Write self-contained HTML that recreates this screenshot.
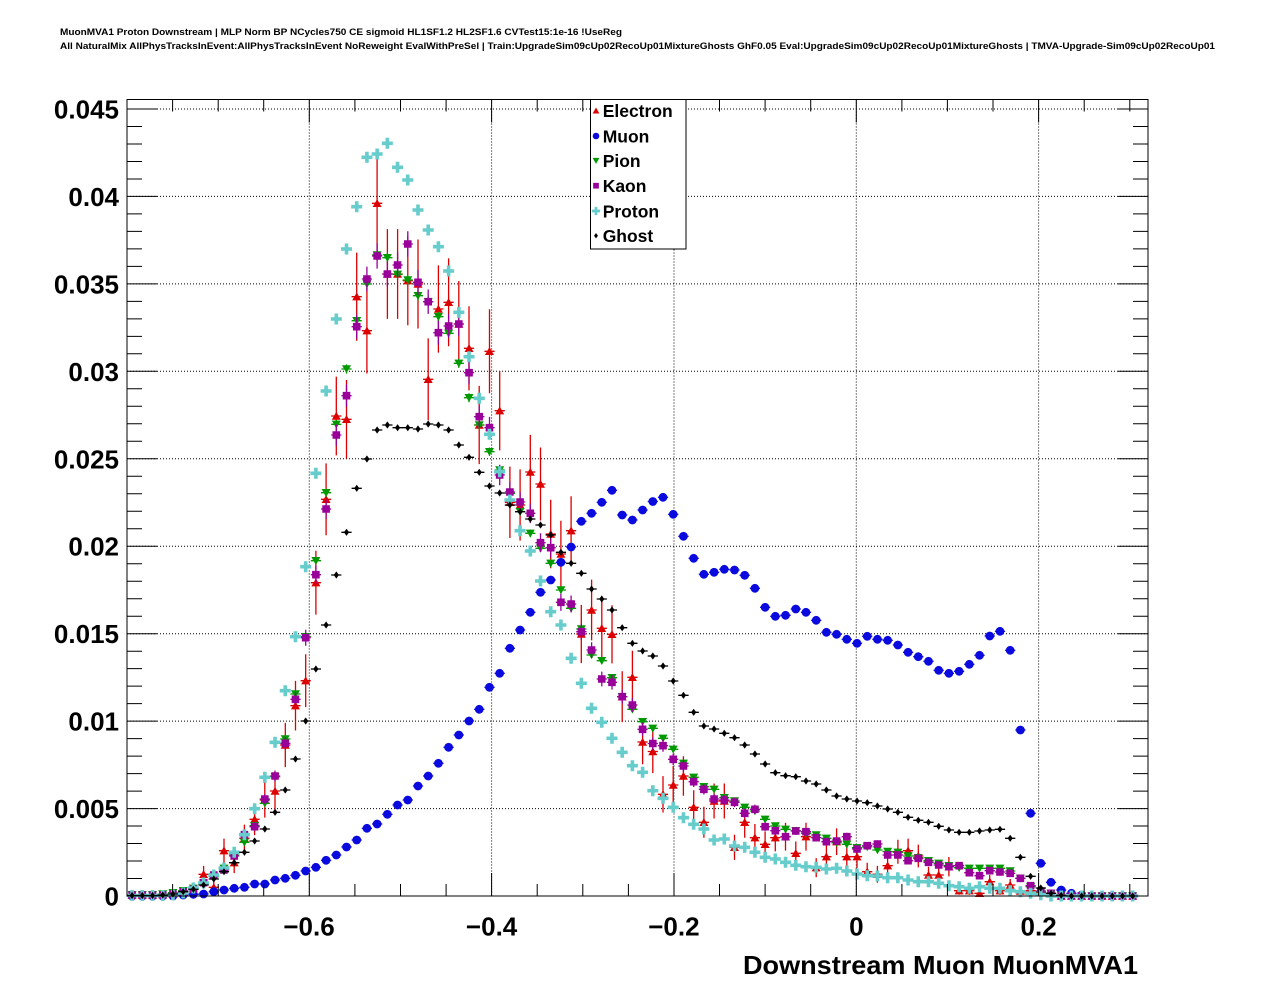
<!DOCTYPE html>
<html><head><meta charset="utf-8"><title>MuonMVA1 Proton Downstream</title>
<style>
html,body{margin:0;padding:0;background:#fff;}
svg{display:block;}
text{font-family:"Liberation Sans",Arial,sans-serif;font-weight:bold;fill:#000;}
</style></head><body>
<svg id="s" width="1276" height="996" viewBox="0 0 1276 996" xmlns="http://www.w3.org/2000/svg">
<rect width="1276" height="996" fill="#fff"/>
<text x="60" y="35" font-size="9.5" textLength="562" lengthAdjust="spacingAndGlyphs">MuonMVA1 Proton Downstream | MLP Norm BP NCycles750 CE sigmoid HL1SF1.2 HL2SF1.6 CVTest15:1e-16 !UseReg</text>
<text x="60" y="49" font-size="9.5" textLength="1155" lengthAdjust="spacingAndGlyphs">All NaturalMix AllPhysTracksInEvent:AllPhysTracksInEvent NoReweight EvalWithPreSel | Train:UpgradeSim09cUp02RecoUp01MixtureGhosts GhF0.05 Eval:UpgradeSim09cUp02RecoUp01MixtureGhosts | TMVA-Upgrade-Sim09cUp02RecoUp01</text>
<g id="grid" stroke="#000" stroke-width="1" stroke-dasharray="1 2" fill="none"></g>
<g id="data"></g>
<g id="axes" stroke="#000" stroke-width="1" fill="none"></g>
<g font-size="26">
<text x="119" y="905.5" text-anchor="end">0</text>
<text x="119" y="818.1" text-anchor="end">0.005</text>
<text x="119" y="730.6" text-anchor="end">0.01</text>
<text x="119" y="643.2" text-anchor="end">0.015</text>
<text x="119" y="555.7" text-anchor="end">0.02</text>
<text x="119" y="468.3" text-anchor="end">0.025</text>
<text x="119" y="380.8" text-anchor="end">0.03</text>
<text x="119" y="293.4" text-anchor="end">0.035</text>
<text x="119" y="205.9" text-anchor="end">0.04</text>
<text x="119" y="118.5" text-anchor="end">0.045</text>
<text x="309" y="935.5" text-anchor="middle">−0.6</text>
<text x="491.6" y="935.5" text-anchor="middle">−0.4</text>
<text x="673.9" y="935.5" text-anchor="middle">−0.2</text>
<text x="856.3" y="935.5" text-anchor="middle">0</text>
<text x="1038.6" y="935.5" text-anchor="middle">0.2</text>
</g>
<text x="743" y="974" font-size="26" textLength="395" lengthAdjust="spacingAndGlyphs">Downstream Muon MuonMVA1</text>
<rect x="590.5" y="99.5" width="95.5" height="149.5" fill="#fff" stroke="#000" stroke-width="1"/>
<g id="leg"></g>
<g font-size="17.5">
<text x="602.7" y="117">Electron</text>
<text x="602.7" y="142.3">Muon</text>
<text x="602.7" y="167">Pion</text>
<text x="602.7" y="192">Kaon</text>
<text x="602.7" y="217.3">Proton</text>
<text x="602.7" y="242">Ghost</text>
</g>
</svg>
<script>
(function(){
var NS="http://www.w3.org/2000/svg";
function add(g,tag,a){var e=document.createElementNS(NS,tag);for(var k in a)e.setAttribute(k,a[k]);g.appendChild(e);return e;}
var L=127,R=1148,T=99.5,B=896;
function xp(v){return L+(v+0.8)*911.6;}
function yp(v){return B-v*17489;}
var grid=document.getElementById('grid'),axes=document.getElementById('axes'),data=document.getElementById('data'),leg=document.getElementById('leg');
var gd="";
[-0.6,-0.4,-0.2,0,0.2].forEach(function(v){var x=xp(v).toFixed(1);gd+="M"+x+" "+T+"V"+B;});
for(var k=1;k<=9;k++){var y=yp(k*0.005).toFixed(1);gd+="M"+L+" "+y+"H"+R;}
add(grid,'path',{d:gd});
var ad="M"+L+" "+T+"H"+R+"V"+B+"H"+L+"Z";
for(var k=0;k<=45;k++){var y=yp(k*0.001).toFixed(1);var maj=(k%5==0);var len=maj?30:15;
 ad+="M"+L+" "+y+"h"+len+"M"+R+" "+y+"h"+(-len);}
for(var k=1;k<=22;k++){var v=-0.8+k*0.05;var x=xp(v).toFixed(1);var maj=(k%4==0);var len=maj?23:12;
 ad+="M"+x+" "+B+"v"+(-len)+"M"+x+" "+T+"v"+len;}
add(axes,'path',{d:ad});

function marker(t,x,y,s){
 s=s||1;
 switch(t){
 case 'tu':return "M"+(x-4.5*s)+" "+(y+3.7*s)+"L"+(x+4.5*s)+" "+(y+3.7*s)+"L"+x+" "+(y-4.3*s)+"Z";
 case 'td':return "M"+(x-4.5*s)+" "+(y-3.7*s)+"L"+(x+4.5*s)+" "+(y-3.7*s)+"L"+x+" "+(y+4.3*s)+"Z";
 case 'c':var r=4.4*s;return "M"+(x-r)+" "+y+"a"+r+" "+r+" 0 1 0 "+(2*r)+" 0a"+r+" "+r+" 0 1 0 "+(-2*r)+" 0Z";
 case 'sq':var h=3.8*s;return "M"+(x-h)+" "+(y-h)+"h"+(2*h)+"v"+(2*h)+"h"+(-2*h)+"Z";
 case 'cr':var a=5.5*s,w=1.8*s;return "M"+(x-a)+" "+(y-w)+"H"+(x-w)+"V"+(y-a)+"H"+(x+w)+"V"+(y-w)+"H"+(x+a)+"V"+(y+w)+"H"+(x+w)+"V"+(y+a)+"H"+(x-w)+"V"+(y+w)+"H"+(x-a)+"Z";
 case 'dm':return "M"+x+" "+(y-3.6*s)+"L"+(x+2.6*s)+" "+y+"L"+x+" "+(y+3.6*s)+"L"+(x-2.6*s)+" "+y+"Z";
 }
}
var S=[
{t:'tu',c:'#dd0000',k:1.8,y:[895,895,895,894.5,894,892.7,887.7,874.3,887.3,850.7,
862.7,838.3,819.3,800,791,745,705.7,680.7,582.7,499.3,
416,419.3,296.7,330.7,203.3,274,274,280.7,284,379.3,
309,302.3,324,348.3,425,351.3,410.7,502.3,505,472,
484,534,554,530.7,634,610,628.3,634.3,696.7,677.3,
742,751.5,794.3,785,776,807.3,822.3,801,801,847.3,
822.3,837.7,844.3,837.7,836.7,853.3,836.7,867.7,856.7,841.7,
856.7,856.7,871.7,874.3,865.7,851.7,850.7,856,875,875,
866.7,890.7,890.7,893.3,881.7,890.7,885,891,890.7,892.7,
893.3,896,896,896,896,896,896,896,896]},
{t:'c',c:'#0a0adf',k:0.12,y:[896,896,896,896,896,895,894.3,894,891.7,890,
888.3,887.3,884,884,880,878.3,875.3,871,867.3,860.3,
855,847,840,828.3,824,814.3,805,800,786,776,
763.3,747.3,735,721,709.3,687.3,673.3,648.3,630,612.3,
592.3,580,562.3,547,521.3,513.3,502.3,490.3,515,520,
510,501.5,497.3,514.3,536.3,558.3,574.3,572.3,569.3,570,
575.3,588.3,607.3,616.3,615.3,609,612.3,620.3,632.3,634.3,
639.3,643.3,636.3,639.3,640.3,645,652.3,656.7,661.3,670.3,
673.3,671.3,664.3,655.3,636,631.3,650.3,730,813.3,863.3,
882.3,890,893.3,895,896,896,896,896,896]},
{t:'td',c:'#009900',k:0.2,y:[894.7,894.7,894.7,894,892.7,890.7,888.3,883.3,876.7,868.3,
855,842.3,825.7,803.3,776.7,739,694,636.7,560.7,492.7,
424.3,369,320.7,284,255,257.7,274.3,280,295.7,301.7,
316.7,333.3,363.3,397.7,425,451.7,470,493.3,511.7,533.3,
548.3,563.3,590,608.3,629,655,660.7,677.7,696.7,709.3,
721.7,728.3,738.3,749.3,763.3,777.3,786.7,789.3,797.7,801,
807.3,811,819.3,826,829.3,830.7,833.3,835,838.3,842.7,
844.3,847.7,847,850,851.5,852.3,856,857.7,860.7,863.3,
865.7,867.7,868.3,868.3,868.3,868.3,871,878.3,886.7,891.7,
893.3,895.3,896,896,896,896,896,896,896]},
{t:'sq',c:'#990099',k:0.5,y:[895,895,895,895,894,891.7,889.3,882.7,875,870,
856,834.7,826.7,799,776,743.3,699.3,637.7,574.7,509,
435,395.7,326.7,279,256,274,265,244,282.3,301.7,
332.7,326,324,372.7,416.7,427.7,475,492,502,513.3,
542.7,547.7,602.3,604,631.7,650,679,682.3,696.7,705,
729.3,743.5,745.7,759.3,766,781.7,789.3,799,800,802.3,
813.3,809.3,826.7,830.7,836.7,831,831.7,837.7,841.7,841,
836.7,849,845.7,844,855,855,860.7,858.3,862.3,865,
866.7,865.7,872.7,875.7,870.7,872,873.3,878.3,885.7,891,
893.3,896,896,896,896,896,896,896,896]},
{t:'cr',c:'#66cccc',k:0.15,y:[895.5,895.5,895.5,895.5,895,893,888,883,875,868,
852.3,834.7,808.7,777.3,742.3,690.7,636.7,566.7,473.3,391,
319,249,206.7,157.3,154,143.3,167.3,180,210,230,
246.7,271,312.3,356.7,398.3,434.3,471.7,500,530.7,551,
581,611.7,625,658.3,683.3,708.3,722.3,738.3,752.3,765.7,
772.3,790.7,798.3,807.3,817.7,824.3,829,840,839,846,
847.3,852.3,857.3,859,862.3,865.3,866.7,867.3,869,868.3,
871,874,875.7,876,877.7,877.7,880,881.7,881.7,883.3,
885.7,886.7,888.3,886.7,888.3,888.3,890.7,891.7,893.3,894.7,
896,896,896,896,896,896,896,896,896]},
{t:'dm',c:'#000000',k:0.1,y:[895.5,895.5,895.5,895,894,891.7,889.3,885,879,871.7,
862.7,852.3,841,829,812.3,790,759,721,669,625,
575,532.3,488.3,459,430,425,427.7,427.7,429,424,
425,430,445,457.3,472.3,486,493,505,511.7,519,
525,535,552.3,563.3,573.3,589,599,610,627.7,643.3,
651,656,666,681,695.3,712.3,726,729,733.3,737.7,
745,754,764,772.7,775.7,776.7,781,784,790,796,
799,801,802.7,806,809,812.3,817.3,820.3,822.3,826.3,
830,832.3,832.3,831,830,829.3,838.3,857.3,876.3,888,
893.3,895.3,896,896,896,896,896,896,896]}
];
var BW=10.21;
S.forEach(function(s){
 var ed="",md="";
 for(var i=0;i<s.y.length;i++){
  var x=L+BW*(i+0.5),y=s.y[i],h=B-y;
  ed+="M"+(x-BW/2).toFixed(1)+" "+y+"H"+(x+BW/2).toFixed(1);
  var e=s.k*Math.sqrt(Math.max(h,0));
  if(e>0.6)ed+="M"+x.toFixed(1)+" "+(y-e).toFixed(1)+"V"+(y+e).toFixed(1);
  md+=marker(s.t,+x.toFixed(2),y);
 }
 add(data,'path',{d:ed,stroke:s.c,'stroke-width':'1.3',fill:'none'});
 add(data,'path',{d:md,fill:s.c,stroke:'none'});
});
var ly=[110.7,136,160.7,185.7,211,235.7];
S.forEach(function(s,j){add(leg,'path',{d:marker(s.t,596,ly[j],0.75),fill:s.c});});
})();
</script>
</body></html>
